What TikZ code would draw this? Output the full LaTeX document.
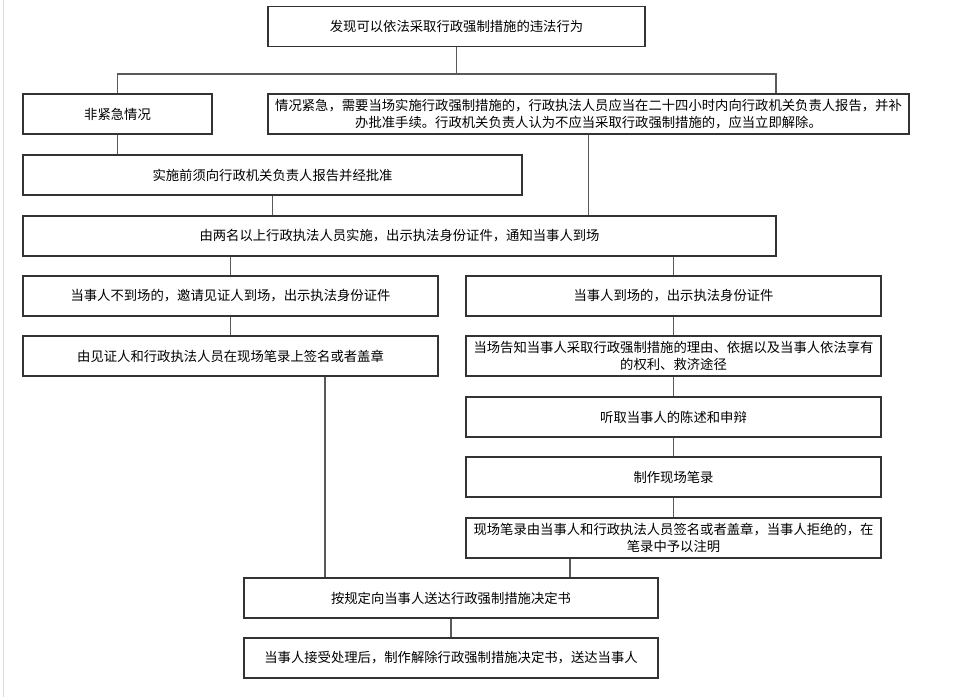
\documentclass[tikz,border=0pt]{standalone}
\usepackage{fontspec}
\newfontfamily\cjk{Noto Sans CJK SC}
\usepackage{tikz}
\usetikzlibrary{positioning}

\begin{document}
\begin{tikzpicture}[
    x=0.75pt, y=-0.75pt,
    box/.style={draw=black!80, line width=0.8pt, rectangle, minimum height=30pt, inner sep=2pt, align=center, font=\cjk\fontsize{10}{13}\selectfont},
    link/.style={draw=black!65, line width=0.8pt}
]
    \useasboundingbox (0,0) rectangle (953,697);
    \draw[black!15, line width=0.6pt] (3,0) -- (3,697);

    % Start
    \node[box, minimum width=282.75pt] (found) at (456.5,26.5) {发现可以依法采取行政强制措施的违法行为};

    % Two cases
    \node[box, minimum width=141.75pt] (normal) at (117.5,114) {非紧急情况};
    \node[box, minimum width=480.75pt] (urgent) at (588.5,114) {情况紧急，需要当场实施行政强制措施的，行政执法人员应当在二十四小时内向行政机关负责人报告，并补\\办批准手续。行政机关负责人认为不应当采取行政强制措施的，应当立即解除。};
    \node[box, minimum width=374.25pt] (approve) at (272.5,175) {实施前须向行政机关负责人报告并经批准};
    \node[box, minimum width=564.75pt] (officers) at (399.5,236) {由两名以上行政执法人员实施，出示执法身份证件，通知当事人到场};

    % Party absent
    \node[box, minimum width=311.25pt] (absent) at (230.5,296) {当事人不到场的，邀请见证人到场，出示执法身份证件};
    \node[box, minimum width=311.25pt] (witness) at (230.5,356) {由见证人和行政执法人员在现场笔录上签名或者盖章};

    % Party present
    \node[box, minimum width=311.25pt] (present) at (673.5,296) {当事人到场的，出示执法身份证件};
    \node[box, minimum width=311.25pt] (inform) at (673.5,356) {当场告知当事人采取行政强制措施的理由、依据以及当事人依法享有\\的权利、救济途径};
    \node[box, minimum width=311.25pt] (hear) at (673.5,417) {听取当事人的陈述和申辩};
    \node[box, minimum width=311.25pt] (record) at (673.5,477) {制作现场笔录};
    \node[box, minimum width=311.25pt] (sign) at (673.5,538) {现场笔录由当事人和行政执法人员签名或者盖章，当事人拒绝的，在\\笔录中予以注明};

    % End
    \node[box, minimum width=310.5pt] (decision) at (451,598) {按规定向当事人送达行政强制措施决定书};
    \node[box, minimum width=310.5pt] (release) at (451,658) {当事人接受处理后，制作解除行政强制措施决定书，送达当事人};

    % Connections
    \coordinate (split) at (456.5,74);
    \coordinate (splitR) at (776,74);
    \draw[link] (found) -- (split);
    \draw[link] (normal.north) |- (splitR) -- (splitR |- urgent.north);
    \draw[link] (normal.south) -- (normal.south |- approve.north);
    \draw[link] (approve.south) -- (approve.south |- officers.north);
    \draw[link] (urgent.south) -- (urgent.south |- officers.north);
    \draw[link] (absent.north) -- (absent.north |- officers.south);
    \draw[link] (present.north) -- (present.north |- officers.south);
    \draw[link] (absent) -- (witness);
    \draw[link] (present) -- (inform);
    \draw[link] (inform) -- (hear);
    \draw[link] (hear) -- (record);
    \draw[link] (record) -- (sign);
    \draw[link] (witness.south -| 325,0) -- (decision.north -| 325,0);
    \draw[link] (sign.south -| 570,0) -- (decision.north -| 570,0);
    \draw[link] (decision) -- (release);

\end{tikzpicture}
\end{document}
